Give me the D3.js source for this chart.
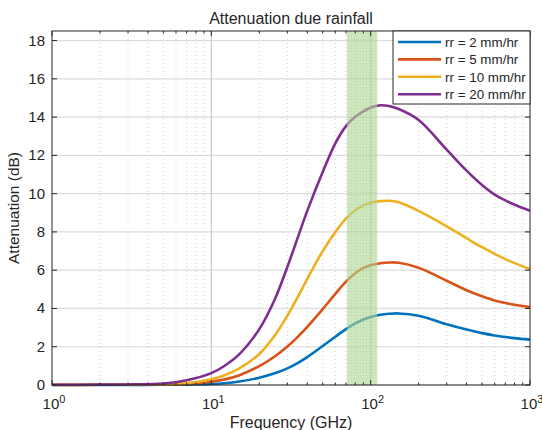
<!DOCTYPE html>
<html>
<head>
<meta charset="utf-8">
<script src="https://cdn.jsdelivr.net/npm/d3@7"></script>
<style>
  body { margin: 0; background: #fff; }
  text { font-family: "Liberation Sans", Arial, sans-serif; fill: #262626; }
</style>
</head>
<body>
<svg width="542" height="430"></svg>
<script>
// values
const freq = [1, 2, 3, 5, 7, 10, 12, 15, 20, 25, 30, 35, 40, 50, 60, 70, 80, 90, 100, 115, 130, 150, 200, 300, 400, 500, 600, 700, 800, 1000];
const rr2  = [0, 0, 0, 0.01, 0.02, 0.05, 0.09, 0.18, 0.38, 0.61, 0.87, 1.16, 1.46, 2.04, 2.52, 2.92, 3.22, 3.42, 3.56, 3.67, 3.72, 3.74, 3.62, 3.17, 2.9, 2.71, 2.59, 2.51, 2.45, 2.37];
const rr5  = [0, 0.01, 0.01, 0.02, 0.05, 0.17, 0.28, 0.51, 0.99, 1.49, 2.01, 2.53, 3.04, 3.97, 4.76, 5.4, 5.84, 6.12, 6.26, 6.36, 6.4, 6.39, 6.13, 5.45, 4.95, 4.64, 4.42, 4.29, 4.19, 4.07];
const rr10 = [0.01, 0.01, 0.02, 0.04, 0.1, 0.3, 0.5, 0.87, 1.62, 2.59, 3.62, 4.62, 5.55, 7.0, 7.99, 8.69, 9.13, 9.39, 9.53, 9.61, 9.63, 9.55, 9.1, 8.29, 7.67, 7.2, 6.85, 6.58, 6.37, 6.06];
const rr20 = [0.01, 0.02, 0.03, 0.08, 0.25, 0.62, 0.98, 1.61, 2.92, 4.47, 6.17, 7.74, 9.1, 11.13, 12.63, 13.53, 14.02, 14.3, 14.5, 14.62, 14.58, 14.42, 13.85, 12.3, 11.2, 10.45, 9.95, 9.65, 9.42, 9.11];

const seriesNames = ['rr = 2 mm/hr', 'rr = 5 mm/hr', 'rr = 10 mm/hr', 'rr = 20 mm/hr'];
const seriesColors = ['#0072BD', '#D95319', '#EDB120', '#7E2F8E'];
const band = [71, 110];
const yTicks = [0, 2, 4, 6, 8, 10, 12, 14, 16, 18];
const xTicks = [1, 10, 100, 1000];

const svg = d3.select('svg');
const pl = 52, pr = 530, pt = 31, pb = 385;

const x = d3.scaleLog().domain([1, 1000]).range([pl, pr]);
const y = d3.scaleLinear().domain([0, 18.5]).range([pb, pt]);

// minor tick values for the log axis
let minor = [];
for (let d = 1; d < 1000; d *= 10) {
    for (let k = 2; k <= 9; k++) minor.push(d * k);
}

// grid
const grid = svg.append('g');
grid.selectAll('.minor').data(minor).enter().append('line')
    .attr('x1', d => x(d)).attr('x2', d => x(d))
    .attr('y1', pt).attr('y2', pb)
    .attr('stroke', '#d0d0d0').attr('stroke-width', 1)
    .attr('stroke-dasharray', '1,3');
grid.selectAll('.hy').data(yTicks).enter().append('line')
    .attr('x1', pl).attr('x2', pr)
    .attr('y1', d => y(d)).attr('y2', d => y(d))
    .attr('stroke', '#dcdcdc').attr('stroke-width', 1.2);
grid.selectAll('.vx').data(xTicks.slice(1, 3)).enter().append('line')
    .attr('x1', d => x(d)).attr('x2', d => x(d))
    .attr('y1', pt).attr('y2', pb)
    .attr('stroke', '#c8c8c8').attr('stroke-width', 1.2);

// curves
const all = [rr2, rr5, rr10, rr20];
const line = d3.line()
    .x(d => x(d[0]))
    .y(d => y(d[1]))
    .curve(d3.curveCatmullRom.alpha(0.5));

svg.append('g').selectAll('path').data(all).enter().append('path')
    .attr('d', vals => line(freq.map((f, i) => [f, vals[i]])))
    .attr('fill', 'none')
    .attr('stroke', (_, i) => seriesColors[i])
    .attr('stroke-width', 2.6);

// shaded band with a fine texture
const defs = svg.append('defs');
const pat = defs.append('pattern').attr('id', 'dots')
    .attr('width', 3).attr('height', 3).attr('patternUnits', 'userSpaceOnUse');
pat.append('rect').attr('width', 3).attr('height', 3).attr('fill', '#b2d896');
pat.append('rect').attr('width', 1).attr('height', 1).attr('fill', '#8fc56e');
svg.append('rect')
    .attr('x', x(band[0])).attr('width', x(band[1]) - x(band[0]))
    .attr('y', pt).attr('height', pb - pt)
    .attr('fill', 'url(#dots)')
    .attr('opacity', 0.62);

// axes box with inward ticks
const ax = svg.append('g').attr('stroke', '#262626');
ax.append('rect')
    .attr('x', pl).attr('y', pt)
    .attr('width', pr - pl).attr('height', pb - pt)
    .attr('fill', 'none').attr('stroke-width', 1);

ax.selectAll('.ty').data(yTicks).enter().append('path')
    .attr('d', d => `M${pl},${y(d)}h5M${pr},${y(d)}h-5`);
ax.selectAll('.tx').data(xTicks).enter().append('path')
    .attr('d', d => `M${x(d)},${pb}v-5M${x(d)},${pt}v5`);
ax.selectAll('.tm').data(minor).enter().append('path')
    .attr('d', d => `M${x(d)},${pb}v-2.5M${x(d)},${pt}v2.5`);

// tick labels
svg.append('g').selectAll('text').data(yTicks).enter().append('text')
    .attr('x', pl - 7).attr('y', d => y(d) + 5)
    .attr('text-anchor', 'end')
    .style('font-size', '15px')
    .text(d => d);

const xl = svg.append('g').selectAll('text').data(xTicks).enter().append('text')
    .attr('x', d => x(d) + 2).attr('y', pb + 24)
    .attr('text-anchor', 'middle')
    .style('font-size', '15px');
xl.append('tspan').text('10');
xl.append('tspan').attr('dy', -6).style('font-size', '11px')
    .text(d => Math.round(Math.log10(d)));

// titles
svg.append('text').attr('x', (pl + pr) / 2).attr('y', 24)
    .attr('text-anchor', 'middle').style('font-size', '16px')
    .text('Attenuation due rainfall');
svg.append('text').attr('x', (pl + pr) / 2).attr('y', 428)
    .attr('text-anchor', 'middle').style('font-size', '16px')
    .text('Frequency (GHz)');
svg.append('text')
    .attr('transform', `translate(19,${(pt + pb) / 2}) rotate(-90)`)
    .attr('text-anchor', 'middle').style('font-size', '15.5px')
    .text('Attenuation (dB)');

// legend
const lg = svg.append('g').attr('transform', 'translate(393,31)');
lg.append('rect').attr('width', 137).attr('height', 73)
    .attr('fill', '#fff').attr('stroke', '#262626').attr('stroke-width', 1);
const row = lg.selectAll('g').data(seriesNames).enter().append('g')
    .attr('transform', (_, i) => `translate(0,${11 + i * 17.4})`);
row.append('line').attr('x1', 5).attr('x2', 48)
    .attr('stroke', (_, i) => seriesColors[i]).attr('stroke-width', 2.6);
row.append('text').attr('x', 52).attr('y', 5)
    .style('font-size', '13.4px')
    .text(d => d);
</script>
</body>
</html>
